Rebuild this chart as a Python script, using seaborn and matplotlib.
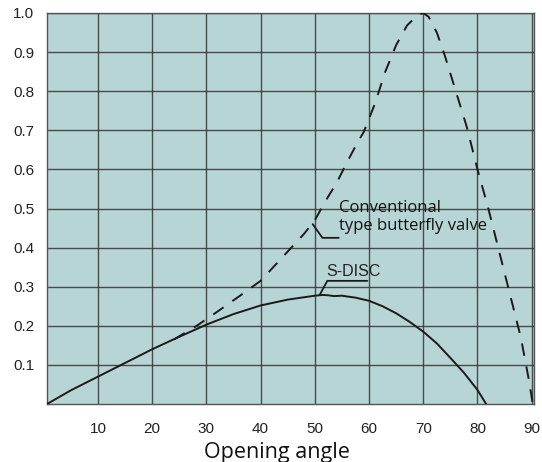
import seaborn as sns
import matplotlib.pyplot as plt
import pandas as pd

# S-DISC curve (solid)
sdisc_angle = [0.6, 5, 10, 15, 20, 25, 30, 35, 40, 45, 50, 51.5, 52.5, 53.5, 55,
               57.5, 60, 62.5, 65, 67.5, 70, 72.5, 75, 77.5, 80, 81.6]
sdisc_value = [0.0, 0.035, 0.07, 0.105, 0.14, 0.172, 0.203, 0.23, 0.252, 0.267, 0.277,
               0.279, 0.278, 0.276, 0.277, 0.272, 0.264, 0.25, 0.232, 0.21, 0.185,
               0.155, 0.118, 0.08, 0.036, 0.0]

# conventional butterfly valve (dashed)
conv_angle = [24, 28, 32, 36, 40, 44, 48, 50, 52, 54, 56, 58, 59, 61, 63, 65, 67, 69,
              70, 71, 72.5, 74, 76, 78, 80, 82, 84, 86, 88, 89.5, 90.2]
conv_value = [0.165, 0.198, 0.236, 0.275, 0.315, 0.375, 0.435, 0.47, 0.52, 0.565, 0.62,
              0.672, 0.695, 0.765, 0.85, 0.918, 0.968, 0.995, 1.0, 0.99, 0.95, 0.89, 0.80,
              0.71, 0.60, 0.50, 0.39, 0.28, 0.17, 0.06, 0.0]

x_ticks = [10, 20, 30, 40, 50, 60, 70, 80, 90]
y_ticks = [0.1, 0.2, 0.3, 0.4, 0.5, 0.6, 0.7, 0.8, 0.9, 1.0]

sns.set_style("white", {"axes.facecolor": "#b8d5d5", "axes.edgecolor": "#555555"})
plt.rcParams['font.family'] = ['Liberation Sans', 'DejaVu Sans']

fig = plt.figure(figsize=(5.42, 4.62), dpi=100)
ax = fig.add_axes([0.0867, 0.1255, 0.8983, 0.8464])

df_s = pd.DataFrame({'angle': sdisc_angle, 'value': sdisc_value})
df_c = pd.DataFrame({'angle': conv_angle, 'value': conv_value})

sns.lineplot(data=df_s, x='angle', y='value', color='#1a1a1a', linewidth=1.4, ax=ax, zorder=3)
sns.lineplot(data=df_c, x='angle', y='value', color='#1a1a1a', linewidth=1.4, ax=ax, zorder=3)
ax.lines[-1].set_dashes([6.5, 5.5])

ax.set_xlim(0.6, 90.4)
ax.set_ylim(0, 1.0)
ax.set_xticks(x_ticks)
ax.set_yticks(y_ticks)
ax.set_xticklabels([str(t) for t in x_ticks])
ax.set_yticklabels([f"{t:.1f}" for t in y_ticks])
ax.grid(True, color='#333333', linewidth=1.0, alpha=0.85)
ax.tick_params(axis='both', labelsize=11, labelcolor='#222222', color='#555555',
               length=4, width=1.0, direction='out')
ax.tick_params(axis='x', pad=9)
ax.tick_params(axis='y', pad=5)
for s in ax.spines.values():
    s.set_linewidth(1.0)
    s.set_color('#555555')

ax.set_xlabel('Opening angle', fontsize=15.5, family='Open Sans', color='#111111', va='center')
ax.xaxis.set_label_coords(0.472, -0.123)
ax.set_ylabel('')

# annotations
ax.plot([49.6, 51.4, 54.4], [0.46, 0.425, 0.425], color='#1a1a1a', linewidth=1.3)
ax.text(54.4, 0.478, 'Conventional\ntype butterfly valve', fontsize=12, family='Open Sans',
        va='center', ha='left', linespacing=1.15, color='#111111')
ax.plot([50.9, 52.3, 59.7], [0.279, 0.315, 0.315], color='#1a1a1a', linewidth=1.3)
ax.text(52.1, 0.338, 'S-DISC', fontsize=11.5, va='center', ha='left', color='#222222')

fig.savefig('out.png', dpi=100)
